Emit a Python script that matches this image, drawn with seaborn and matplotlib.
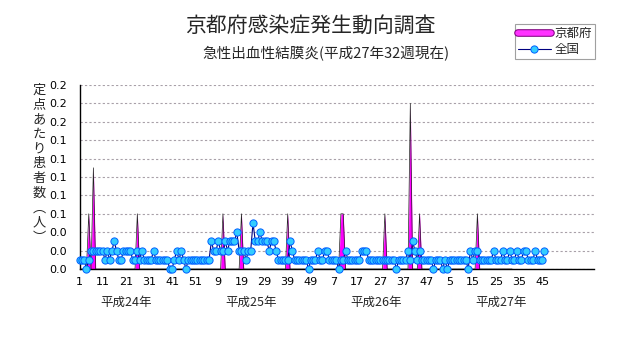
import numpy as np
import pandas as pd
import seaborn as sns
import matplotlib.pyplot as plt
from matplotlib.lines import Line2D
import matplotlib.patheffects as pe

sns.set_style("white")
plt.rcParams["font.family"] = ["Noto Sans CJK JP", "DejaVu Sans"]

# ---- data -------------------------------------------------------------
year_labels = ["平成24年", "平成25年", "平成26年", "平成27年"]
weeks_per_year = [52, 52, 52, 52]

# national (全国) per-sentinel counts, week by week
nat_2012 = [0.01, 0.01, 0.01, 0.00, 0.01, 0.02, 0.02, 0.02, 0.02, 0.02,
            0.02, 0.01, 0.02, 0.01, 0.02, 0.03, 0.02, 0.01, 0.01, 0.02,
            0.02, 0.02, 0.02, 0.01, 0.01, 0.02, 0.01, 0.02, 0.01, 0.01,
            0.01, 0.01, 0.02, 0.01, 0.01, 0.01, 0.01, 0.01, 0.01, 0.00,
            0.00, 0.01, 0.02, 0.01, 0.02, 0.01, 0.00, 0.01, 0.01, 0.01,
            0.01, 0.01]
nat_2013 = [0.01, 0.01, 0.01, 0.01, 0.01, 0.03, 0.02, 0.02, 0.03, 0.02,
            0.02, 0.03, 0.02, 0.03, 0.03, 0.03, 0.04, 0.02, 0.02, 0.02,
            0.01, 0.02, 0.02, 0.05, 0.03, 0.03, 0.04, 0.03, 0.03, 0.03,
            0.02, 0.03, 0.03, 0.02, 0.01, 0.01, 0.01, 0.01, 0.01, 0.03,
            0.02, 0.01, 0.01, 0.01, 0.01, 0.01, 0.01, 0.00, 0.01, 0.01,
            0.01, 0.02]
nat_2014 = [0.01, 0.01, 0.02, 0.02, 0.01, 0.01, 0.01, 0.01, 0.00, 0.01,
            0.01, 0.02, 0.01, 0.01, 0.01, 0.01, 0.01, 0.01, 0.02, 0.02,
            0.02, 0.01, 0.01, 0.01, 0.01, 0.01, 0.01, 0.01, 0.01, 0.01,
            0.01, 0.01, 0.01, 0.00, 0.01, 0.01, 0.01, 0.01, 0.02, 0.01,
            0.03, 0.02, 0.01, 0.02, 0.01, 0.01, 0.01, 0.01, 0.01, 0.00,
            0.01, 0.01]
nat_2015 = [0.01, 0.00, 0.01, 0.00, 0.01, 0.01, 0.01, 0.01, 0.01, 0.01,
            0.01, 0.01, 0.00, 0.02, 0.01, 0.02, 0.02, 0.01, 0.01, 0.01,
            0.01, 0.01, 0.01, 0.02, 0.01, 0.01, 0.01, 0.02, 0.01, 0.01,
            0.02, 0.01, 0.01, 0.02, 0.01, 0.01, 0.02, 0.02, 0.01, 0.01,
            0.01, 0.02, 0.01, 0.01, 0.01, 0.02]

# Kyoto (京都府): weeks with reported cases, zero otherwise
kyoto_year = [0, 0, 0, 1, 1, 1, 2, 2, 2, 2, 2, 3]
kyoto_week = [5, 7, 26, 11, 19, 39, 10, 11, 29, 40, 44, 17]
kyoto_value = [0.06, 0.11, 0.06, 0.06, 0.06, 0.06, 0.06, 0.06, 0.06, 0.18, 0.06, 0.06]
kyoto_last_week = 32  # 平成27年32週現在

# ---- series on a running week index -----------------------------------
year_start = np.concatenate([[0], np.cumsum(weeks_per_year)[:-1]])
national = nat_2012 + nat_2013 + nat_2014 + nat_2015
nat_df = pd.DataFrame({"idx": np.arange(len(national)), "val": national})

n_kyoto = year_start[3] + kyoto_last_week
kyoto = np.zeros(n_kyoto)
for y, w, v in zip(kyoto_year, kyoto_week, kyoto_value):
    kyoto[year_start[y] + w - 1] = v
kyoto_x = np.arange(n_kyoto)

# ---- figure -----------------------------------------------------------
W, H = 631, 347
fig = plt.figure(figsize=(W / 100, H / 100), dpi=100)
ax = fig.add_axes([79.5 / W, 1 - 269 / H, (594 - 79.5) / W, 184 / H])

ax.fill_between(kyoto_x, 0, kyoto, color="#ff00ff", lw=0, zorder=2)
ax.plot(kyoto_x, kyoto, color="#202020", lw=0.5, zorder=2.5)

sns.lineplot(data=nat_df, x="idx", y="val", ax=ax, color="#000080", lw=0.8,
             marker="o", markersize=5.2, markerfacecolor="#33ccff",
             markeredgecolor="#0060ff", markeredgewidth=0.7,
             zorder=3, clip_on=False)

ax.set_xlim(0, 222.4)
ax.set_ylim(0, 0.2)

# y axis
yt = np.linspace(0, 0.2, 11)
ax.set_yticks(yt)
ax.set_yticklabels([f"{v:.1f}" for v in yt], family=["Liberation Sans Narrow", "DejaVu Sans"], fontsize=8)
ax.yaxis.grid(True, color="#a8a0a8", linestyle=(0, (2, 2)), lw=0.8)
ax.xaxis.grid(False)
ax.tick_params(axis="y", direction="out", length=4, width=0.8, pad=5, colors="black")

# x axis: ticks every 5 weeks, week numbers every 10
xt = np.arange(0, 223, 5)
labels = []
for t in xt:
    if t % 10 == 0 and t <= 200:
        labels.append(str(t - year_start[np.searchsorted(year_start, t, side="right") - 1] + 1))
    else:
        labels.append("")
ax.set_xticks(xt)
ax.set_xticklabels(labels, family=["Liberation Sans Narrow", "DejaVu Sans"], fontsize=8)
ax.tick_params(axis="x", direction="in", length=3, width=0.8, pad=6, colors="black")
ax.set_xlabel("")
ax.set_ylabel("")

for s in ["top", "right"]:
    ax.spines[s].set_visible(False)
for s in ["left", "bottom"]:
    ax.spines[s].set_color("black")
    ax.spines[s].set_linewidth(1)

# year captions under the week numbers
year_pos = [20, 74, 128, 182]
for p, lab in zip(year_pos, year_labels):
    ax.text(p, -0.0365, lab, ha="center", va="center", fontsize=9, clip_on=False)

# titles
fig.text(310 / W, 1 - 26 / H, "京都府感染症発生動向調査", ha="center", va="center", fontsize=15)
fig.text(326 / W, 1 - 54 / H, "急性出血性結膜炎(平成27年32週現在)", ha="center", va="center", fontsize=10.5)

# vertical y label, one character per line
fig.text(39 / W, 1 - 164 / H, "\n".join("定点あたり患者数︵人︶"), ha="center", va="center",
         fontsize=9.5, linespacing=1.18)

# legend
h_k = Line2D([0], [0], color="#ff33ff", lw=4,
             path_effects=[pe.Stroke(linewidth=5.5, foreground="#800080"), pe.Normal()])
h_n = Line2D([0], [0], color="#000080", lw=0.8, marker="o", markersize=5.2,
             markerfacecolor="#33ccff", markeredgecolor="#0060ff", markeredgewidth=0.7)
leg = fig.legend([h_k, h_n], ["京都府", "全国"], loc="upper left",
                 bbox_to_anchor=(515 / W, 1 - 24 / H), fontsize=9, frameon=True,
                 fancybox=False, framealpha=1, edgecolor="#a0a0a0", borderpad=0.25,
                 handlelength=2.6, handletextpad=0.3, labelspacing=0.25, borderaxespad=0)
leg.get_frame().set_linewidth(0.8)

fig.savefig("out.png", dpi=100)
